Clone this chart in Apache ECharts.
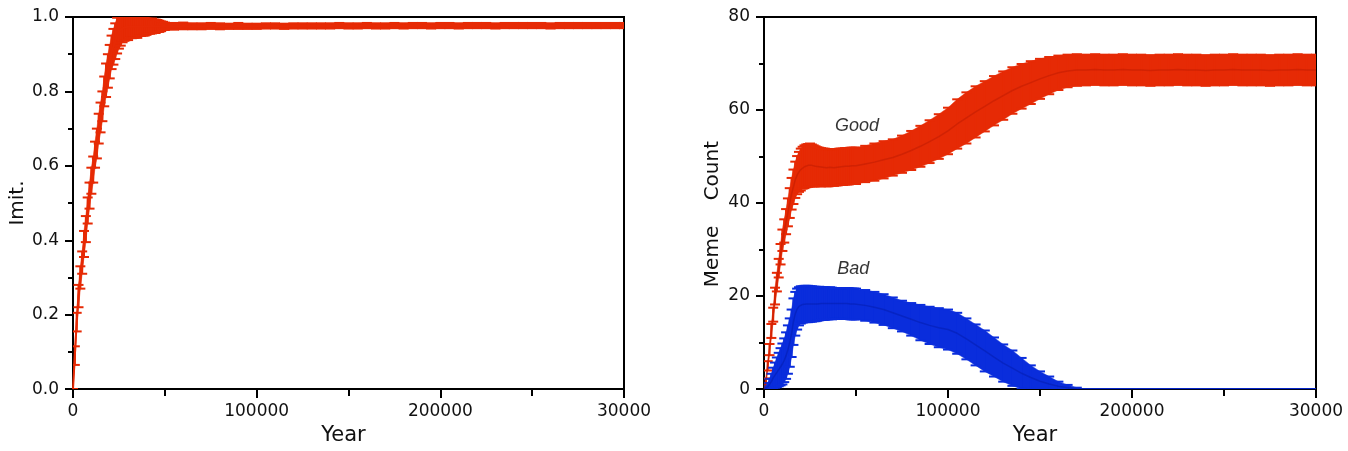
<!DOCTYPE html>
<html>
<head>
    <meta charset="UTF-8">
    <title>Imitation and meme counts</title>
    <script src="https://cdn.jsdelivr.net/npm/echarts@6/dist/echarts.min.js"></script>
    <style>
        html, body { margin: 0; padding: 0; background: #fff; }
        #main { width: 1348px; height: 451px; }
    </style>
</head>
<body>
<div id="main"></div>
<script>
    // sample years (dense early, coarser later)
    const years = [
        0, 1000, 2000, 3000, 4000, 5000, 6000, 7000, 8000, 9000,
        10000, 11000, 12000, 13000, 14000, 15000, 16000, 17000, 18000, 19000,
        20000, 21000, 22000, 23000, 24000, 25000, 26000, 27000, 28000, 29000,
        30000, 31000, 32000, 33000, 34000, 35000, 36000, 37000, 38000, 39000,
        40000, 41000, 42000, 43000, 44000, 45000, 46000, 47000, 48000, 49000,
        50000,
        55000, 60000, 65000, 70000, 75000, 80000, 85000, 90000, 95000, 100000,
        105000, 110000, 115000, 120000, 125000, 130000, 135000, 140000, 145000, 150000,
        155000, 160000, 165000, 170000, 175000, 180000, 185000, 190000, 195000, 200000,
        205000, 210000, 215000, 220000, 225000, 230000, 235000, 240000, 245000, 250000,
        255000, 260000, 265000, 270000, 275000, 280000, 285000, 290000, 295000, 300000
    ]

    // left panel: imitation
    const imitMean = [
        0.00, 0.09, 0.18, 0.25, 0.30, 0.34, 0.39, 0.43, 0.48, 0.52,
        0.56, 0.59, 0.63, 0.66, 0.70, 0.73, 0.76, 0.80, 0.83, 0.855,
        0.88, 0.905, 0.92, 0.935, 0.95, 0.96, 0.965, 0.97, 0.972, 0.973,
        0.973, 0.974, 0.973, 0.974, 0.975, 0.974, 0.975, 0.974, 0.975, 0.975,
        0.974, 0.975, 0.975, 0.976, 0.975, 0.975, 0.976, 0.975, 0.975, 0.976,
        0.975,
        0.975, 0.976, 0.975, 0.975, 0.976, 0.975, 0.975, 0.976, 0.975, 0.975,
        0.976, 0.976, 0.975, 0.976, 0.976, 0.976, 0.976, 0.976, 0.977, 0.976,
        0.976, 0.977, 0.976, 0.976, 0.977, 0.976, 0.977, 0.977, 0.976, 0.977,
        0.977, 0.976, 0.977, 0.977, 0.977, 0.976, 0.977, 0.977, 0.977, 0.977,
        0.977, 0.976, 0.977, 0.977, 0.977, 0.977, 0.977, 0.977, 0.977, 0.977
    ]
    const imitErr = [
        0.00, 0.025, 0.025, 0.03, 0.03, 0.03, 0.035, 0.035, 0.035, 0.035,
        0.035, 0.035, 0.035, 0.04, 0.04, 0.04, 0.04, 0.04, 0.045, 0.045,
        0.045, 0.045, 0.048, 0.048, 0.048, 0.045, 0.042, 0.038, 0.036, 0.035,
        0.035, 0.03, 0.03, 0.03, 0.03, 0.03, 0.025, 0.025, 0.025, 0.025,
        0.022, 0.02, 0.02, 0.02, 0.018, 0.018, 0.016, 0.015, 0.013, 0.011,
        0.01,
        0.009, 0.009, 0.008, 0.008, 0.008, 0.008, 0.007, 0.008, 0.007, 0.007,
        0.007, 0.007, 0.007, 0.007, 0.007, 0.007, 0.007, 0.007, 0.007, 0.007,
        0.007, 0.007, 0.007, 0.007, 0.007, 0.007, 0.007, 0.007, 0.007, 0.007,
        0.007, 0.007, 0.007, 0.007, 0.007, 0.007, 0.007, 0.007, 0.007, 0.007,
        0.007, 0.007, 0.007, 0.007, 0.007, 0.007, 0.007, 0.007, 0.007, 0.007
    ]

    // right panel: good memes
    const goodMean = [
        0, 1.5, 5, 8.5, 12.5, 16, 20, 23, 26, 29,
        32, 34, 36, 38, 40, 42, 43.5, 45, 46, 46.7,
        47.2, 47.6, 47.8, 48, 48.1, 48.2, 48.1, 48, 47.9, 47.8,
        47.8, 47.7, 47.7, 47.7, 47.6, 47.6, 47.7, 47.7, 47.6, 47.7,
        47.7, 47.8, 47.8, 47.8, 47.9, 47.9, 47.9, 48, 48, 48,
        48,
        48.4, 48.8, 49.3, 49.8, 50.5, 51.3, 52.2, 53.2, 54.3, 55.5,
        57.0, 58.3, 59.6, 60.8, 62.0, 63.1, 64.2, 65.1, 65.9, 66.7,
        67.4, 68.0, 68.4, 68.6, 68.6, 68.7, 68.6, 68.6, 68.7, 68.6,
        68.6, 68.5, 68.6, 68.6, 68.7, 68.6, 68.6, 68.5, 68.6, 68.6,
        68.7, 68.6, 68.6, 68.6, 68.5, 68.6, 68.6, 68.7, 68.6, 68.6
    ]
    const goodErr = [
        0.5, 0.8, 1, 1.2, 1.5, 1.5, 1.8, 2, 2, 2.2,
        2.3, 2.5, 2.7, 3, 3.2, 3.4, 3.7, 3.9, 4.1, 4.3,
        4.5, 4.5, 4.6, 4.6, 4.6, 4.6, 4.5, 4.4, 4.3, 4.2,
        4.1, 4.1, 4.0, 4.0, 4.0, 4.0, 3.9, 3.9, 3.9, 3.9,
        3.9, 3.9, 3.9, 3.9, 3.9, 3.9, 3.9, 3.9, 3.9, 3.9,
        3.9,
        3.9, 4.0, 4.0, 3.9, 4.0, 4.2, 4.4, 4.6, 4.8, 5.0,
        5.3, 5.5, 5.5, 5.4, 5.3, 5.2, 5.0, 4.8, 4.6, 4.3,
        4.0, 3.7, 3.5, 3.4, 3.3, 3.3, 3.3, 3.3, 3.3, 3.3,
        3.3, 3.3, 3.3, 3.3, 3.3, 3.3, 3.3, 3.3, 3.3, 3.3,
        3.3, 3.3, 3.3, 3.3, 3.3, 3.3, 3.3, 3.3, 3.3, 3.3
    ]

    // right panel: bad memes
    const badMean = [
        0, 0.2, 0.5, 1.0, 1.6, 2.4, 3.0, 3.6, 4.2, 4.8,
        5.4, 6.2, 7.2, 8.5, 10.0, 12.0, 14.5, 16.2, 17.2, 17.8,
        18.1, 18.2, 18.3, 18.3, 18.3, 18.3, 18.3, 18.3, 18.3, 18.3,
        18.4, 18.4, 18.4, 18.4, 18.4, 18.4, 18.5, 18.4, 18.4, 18.4,
        18.4, 18.4, 18.4, 18.4, 18.4, 18.4, 18.4, 18.3, 18.3, 18.3,
        18.3,
        18.0, 17.6, 17.1, 16.4, 15.7, 15.0, 14.3, 13.7, 13.2, 12.8,
        12.0, 10.8, 9.5, 8.2, 6.9, 5.6, 4.5, 3.4, 2.5, 1.7,
        1.1, 0.6, 0.3, 0.1, 0, 0, 0, 0, 0, 0,
        0, 0, 0, 0, 0, 0, 0, 0, 0, 0,
        0, 0, 0, 0, 0, 0, 0, 0, 0, 0
    ]
    const badErr = [
        0.2, 0.4, 0.8, 1.2, 1.7, 2.2, 2.7, 3.2, 3.6, 4.0,
        4.4, 4.7, 5.0, 5.2, 5.2, 5.1, 5.0, 4.7, 4.4, 4.1,
        4.0, 3.9, 3.9, 3.9, 3.9, 3.8, 3.8, 3.7, 3.7, 3.6,
        3.6, 3.5, 3.5, 3.5, 3.4, 3.4, 3.4, 3.4, 3.3, 3.3,
        3.3, 3.3, 3.3, 3.3, 3.3, 3.3, 3.3, 3.3, 3.3, 3.3,
        3.3,
        3.3, 3.3, 3.3, 3.3, 3.3, 3.5, 3.8, 4.0, 4.2, 4.3,
        4.4, 4.4, 4.4, 4.4, 4.2, 4.0, 3.8, 3.3, 2.6, 2.1,
        1.6, 1.0, 0.6, 0.2, 0, 0, 0, 0, 0, 0,
        0, 0, 0, 0, 0, 0, 0, 0, 0, 0,
        0, 0, 0, 0, 0, 0, 0, 0, 0, 0
    ]

    // curve labels in the right panel: [year, count, text]
    const curveLabels = [[50500, 54.6, 'Good'], [48500, 23.8, 'Bad']]

    const RED = '#e62a05'
    const BLUE = '#0a2ddc'
    const TEXT = '#111'
    const FONT = 'DejaVu Sans'

    // error bars: band between neighbours + vertical bar + caps
    function errSeries(axis, means, errs, color) {
        return {
            type: 'custom',
            xAxisIndex: axis, yAxisIndex: axis,
            clip: true,
            z: 3,
            data: years.map((y, i) => [y, means[i], errs[i]]),
            renderItem(params, api) {
                let i = params.dataIndex
                let x = api.value(0), m = api.value(1), e = api.value(2)
                let top = api.coord([x, m + e]), bot = api.coord([x, m - e])
                let kids = []
                if (i < years.length - 1) {
                    let t2 = api.coord([years[i + 1], means[i + 1] + errs[i + 1]])
                    let b2 = api.coord([years[i + 1], means[i + 1] - errs[i + 1]])
                    kids.push({type: 'polygon', shape: {points: [top, t2, b2, bot]},
                        style: {fill: color, stroke: color, lineWidth: 0.5}})
                }
                let ls = {stroke: color, lineWidth: 2}
                kids.push({type: 'line', shape: {x1: top[0], y1: top[1], x2: bot[0], y2: bot[1]}, style: ls})
                kids.push({type: 'line', shape: {x1: top[0] - 5, y1: top[1], x2: top[0] + 5, y2: top[1]}, style: ls})
                kids.push({type: 'line', shape: {x1: bot[0] - 5, y1: bot[1], x2: bot[0] + 5, y2: bot[1]}, style: ls})
                return {type: 'group', children: kids}
            }
        }
    }

    function meanSeries(axis, means, color, width) {
        return {
            type: 'line', xAxisIndex: axis, yAxisIndex: axis,
            data: years.map((y, i) => [y, means[i]]),
            showSymbol: false, silent: true, z: 4,
            lineStyle: {color: color, width: width}
        }
    }

    function xAxis(grid) {
        return {
            type: 'value', gridIndex: grid, min: 0, max: 300000, interval: 100000,
            name: 'Year', nameLocation: 'middle', nameGap: 23,
            nameTextStyle: {fontFamily: FONT, fontSize: 21, color: TEXT, padding: [0, 10, 0, 0]},
            axisLine: {lineStyle: {color: '#000', width: 2}},
            axisTick: {length: 9, lineStyle: {color: '#000', width: 2}},
            minorTick: {show: true, splitNumber: 2, length: 7, lineStyle: {color: '#000', width: 2}},
            splitLine: {show: false},
            axisLabel: {
                margin: 14, fontFamily: FONT, fontSize: 17, color: TEXT,
                // the last label is clipped in the original figure
                formatter: v => v === 300000 ? '30000' : String(v)
            }
        }
    }

    let chart = echarts.init(document.getElementById('main'), null, {renderer: 'canvas'})
    chart.setOption({
        animation: false,
        backgroundColor: '#fff',
        grid: [
            {left: 73, right: 724, top: 17, bottom: 44, show: true, borderColor: '#000', borderWidth: 2},
            {left: 764, right: 32, top: 17, bottom: 44, show: true, borderColor: '#000', borderWidth: 2}
        ],
        xAxis: [xAxis(0), xAxis(1)],
        yAxis: [
            {
                type: 'value', gridIndex: 0, min: 0, max: 1, interval: 0.2,
                name: 'Imit.', nameLocation: 'middle', nameGap: 45,
                nameTextStyle: {fontFamily: FONT, fontSize: 20, color: TEXT},
                axisLine: {show: true, lineStyle: {color: '#000', width: 2}},
                axisTick: {show: true, length: 8, lineStyle: {color: '#000', width: 2}},
                minorTick: {show: true, splitNumber: 2, length: 5, lineStyle: {color: '#000', width: 2}},
                splitLine: {show: false},
                axisLabel: {margin: 14, fontFamily: FONT, fontSize: 17, color: TEXT, formatter: v => v.toFixed(1)}
            },
            {
                type: 'value', gridIndex: 1, min: 0, max: 80, interval: 20,
                name: 'Meme    Count', nameLocation: 'middle', nameGap: 41,
                nameTextStyle: {fontFamily: FONT, fontSize: 20, color: TEXT, padding: [0, 22, 0, 0]},
                axisLine: {show: true, lineStyle: {color: '#000', width: 2}},
                axisTick: {show: true, length: 8, lineStyle: {color: '#000', width: 2}},
                minorTick: {show: true, splitNumber: 2, length: 5, lineStyle: {color: '#000', width: 2}},
                splitLine: {show: false},
                axisLabel: {margin: 14, fontFamily: FONT, fontSize: 17, color: TEXT}
            }
        ],
        series: [
            errSeries(0, imitMean, imitErr, RED),
            meanSeries(0, imitMean, RED, 2),
            errSeries(1, goodMean, goodErr, RED),
            meanSeries(1, goodMean, 'rgba(170,20,0,0.35)', 1.5),
            errSeries(1, badMean, badErr, BLUE),
            meanSeries(1, badMean, 'rgba(0,20,150,0.35)', 1.5),
            {
                type: 'scatter', xAxisIndex: 1, yAxisIndex: 1, silent: true, z: 5,
                symbolSize: 1, itemStyle: {color: 'rgba(0,0,0,0)'},
                data: curveLabels.map(d => ({value: [d[0], d[1]], name: d[2]})),
                label: {
                    show: true, position: 'top', distance: 0, formatter: p => p.name,
                    fontFamily: 'Liberation Sans', fontStyle: 'italic', fontSize: 18, color: '#000'
                }
            }
        ]
    })
</script>
</body>
</html>
